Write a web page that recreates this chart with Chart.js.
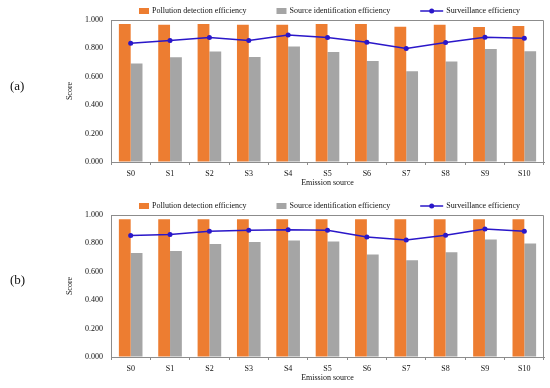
<!DOCTYPE html>
<html>
<head>
<meta charset="utf-8">
<script src="https://cdn.jsdelivr.net/npm/chart.js@4.4.0/dist/chart.umd.min.js"></script>
<style>
	html, body { margin: 0; padding: 0; background: #fff; }
	#wrap { position: relative; width: 550px; height: 388px; overflow: hidden; }
	.panel { position: absolute; left: 0; width: 550px; }
	.tag { position: absolute; left: 10px; font: 13px 'Liberation Serif', 'Times New Roman', serif; color: #111; }
</style>
</head>
<body>
<div id="wrap">
	<div class="panel" style="top:0;height:190px"><canvas id="chart-a"></canvas></div>
	<div class="panel" style="top:190px;height:195px"><canvas id="chart-b"></canvas></div>
	<div class="tag" style="top:78px">(a)</div>
	<div class="tag" style="top:272px">(b)</div>
</div>
<script>
( function () {
	'use strict';

	// ── Data ─────────────────────────────────────────────────────────────

	const CATEGORIES = [ 'S0', 'S1', 'S2', 'S3', 'S4', 'S5', 'S6', 'S7', 'S8', 'S9', 'S10' ];

	const POLLUTION_A    = [ 0.972, 0.967, 0.972, 0.967, 0.967, 0.972, 0.972, 0.953, 0.967, 0.951, 0.958 ];
	const SOURCE_A       = [ 0.693, 0.738, 0.778, 0.740, 0.813, 0.775, 0.712, 0.639, 0.707, 0.796, 0.780 ];
	const SURVEILLANCE_A = [ 0.836, 0.855, 0.876, 0.855, 0.895, 0.876, 0.843, 0.799, 0.841, 0.878, 0.871 ];

	const POLLUTION_B    = [ 0.970, 0.970, 0.970, 0.970, 0.970, 0.970, 0.970, 0.970, 0.970, 0.970, 0.970 ];
	const SOURCE_B       = [ 0.733, 0.747, 0.796, 0.810, 0.820, 0.813, 0.721, 0.681, 0.738, 0.827, 0.799 ];
	const SURVEILLANCE_B = [ 0.855, 0.862, 0.885, 0.892, 0.897, 0.892, 0.845, 0.824, 0.857, 0.902, 0.885 ];

	const SERIES_NAMES = [ 'Pollution detection efficiency', 'Source identification efficiency', 'Surveillance efficiency' ];

	const ORANGE = '#ed7d31';
	const GREY   = '#a5a5a5';
	const BLUE   = '#2a17c9';
	const AXIS   = '#8c8c8c';
	const INK    = '#111';
	const FONT   = "'Liberation Serif', 'Times New Roman', serif";
	const SIZE   = 8;

	// ── Plugins ──────────────────────────────────────────────────────────

	// top and right edges of the plot box
	const frame = {
		id: 'frame',
		afterDraw: function ( chart ) {
			var a = chart.chartArea;
			var ctx = chart.ctx;
			ctx.save();
			ctx.strokeStyle = AXIS;
			ctx.lineWidth = 1;
			ctx.beginPath();
			ctx.moveTo( a.left, a.top + 0.5 );
			ctx.lineTo( a.right - 0.5, a.top + 0.5 );
			ctx.lineTo( a.right - 0.5, a.bottom );
			ctx.stroke();
			ctx.restore();
		},
	};

	// Excel-like legend row above the plot: small boxes for bars, line+dot for the line
	const keyRow = {
		id: 'keyRow',
		afterDraw: function ( chart ) {
			var a = chart.chartArea;
			var ctx = chart.ctx;
			var sets = chart.data.datasets;
			var gap = 30;
			var y = a.top - 9;

			ctx.save();
			ctx.font = SIZE + 'px ' + FONT;
			ctx.textBaseline = 'middle';

			var widths = sets.map( function ( ds ) {
				var iw = ds.type === 'line' ? 23 : 10;
				return { iw: iw, tw: ctx.measureText( ds.label ).width };
			} );
			var total = widths.reduce( function ( s, w ) { return s + w.iw + 3 + w.tw; }, 0 ) + gap * ( sets.length - 1 );
			var x = ( a.left + a.right ) / 2 - total / 2 + 2;

			sets.forEach( function ( ds, i ) {
				var w = widths[ i ];
				if ( ds.type === 'line' ) {
					ctx.strokeStyle = ds.borderColor;
					ctx.fillStyle = ds.borderColor;
					ctx.lineWidth = 1.5;
					ctx.beginPath();
					ctx.moveTo( x, y );
					ctx.lineTo( x + w.iw, y );
					ctx.stroke();
					ctx.beginPath();
					ctx.arc( x + w.iw / 2, y, 2.5, 0, Math.PI * 2 );
					ctx.fill();
				} else {
					ctx.fillStyle = ds.backgroundColor;
					ctx.fillRect( x, y - 3, w.iw, 6 );
				}
				x += w.iw + 3;
				ctx.fillStyle = INK;
				ctx.fillText( ds.label, x, y );
				x += w.tw + gap;
			} );
			ctx.restore();
		},
	};

	// ── Charts ───────────────────────────────────────────────────────────

	function build( id, pollution, source, surveillance, padTop ) {
		var ctx = document.getElementById( id ).getContext( '2d' );

		return new Chart( ctx, {
			type: 'bar',
			data: {
				labels: CATEGORIES,
				datasets: [ {
					label: SERIES_NAMES[ 0 ],
					data: pollution,
					backgroundColor: ORANGE,
					order: 1,
				}, {
					label: SERIES_NAMES[ 1 ],
					data: source,
					backgroundColor: GREY,
					order: 2,
				}, {
					type: 'line',
					label: SERIES_NAMES[ 2 ],
					data: surveillance,
					borderColor: BLUE,
					backgroundColor: BLUE,
					borderWidth: 1.5,
					pointRadius: 2.5,
					pointBackgroundColor: BLUE,
					pointBorderWidth: 0,
					tension: 0,
					order: 0,
				} ],
			},
			options: {
				responsive: true,
				maintainAspectRatio: false,
				animation: false,
				datasets: {
					bar: { categoryPercentage: 0.6, barPercentage: 1.0 },
				},
				layout: {
					padding: { top: padTop, left: 58, right: 6, bottom: 0 },
				},
				plugins: {
					legend: { display: false },
					tooltip: { enabled: false },
				},
				scales: {
					x: {
						afterFit: function ( s ) { s.height = 28; },
						grid: {
							drawOnChartArea: false,
							drawTicks: true,
							tickLength: 3,
							offset: true,
							color: AXIS,
						},
						border: { color: AXIS },
						ticks: {
							padding: 4,
							color: INK,
							font: { family: FONT, size: SIZE },
						},
						title: {
							display: true,
							text: 'Emission source',
							color: INK,
							font: { family: FONT, size: SIZE },
							padding: { top: 0, bottom: 2 },
						},
					},
					y: {
						min: 0,
						max: 1,
						afterFit: function ( s ) { s.width = 53; },
						grid: { drawOnChartArea: false, drawTicks: false },
						border: { color: AXIS },
						ticks: {
							stepSize: 0.2,
							padding: 8,
							color: INK,
							font: { family: FONT, size: SIZE },
							callback: function ( v ) { return Number( v ).toFixed( 3 ); },
						},
						title: {
							display: true,
							text: 'Score',
							color: INK,
							font: { family: FONT, size: SIZE },
							padding: { top: 7, bottom: 0 },
						},
					},
				},
			},
			plugins: [ frame, keyRow ],
		} );
	}

	// ── Init ─────────────────────────────────────────────────────────────

	build( 'chart-a', POLLUTION_A, SOURCE_A, SURVEILLANCE_A, 20 );
	build( 'chart-b', POLLUTION_B, SOURCE_B, SURVEILLANCE_B, 25 );
} )();
</script>
</body>
</html>
